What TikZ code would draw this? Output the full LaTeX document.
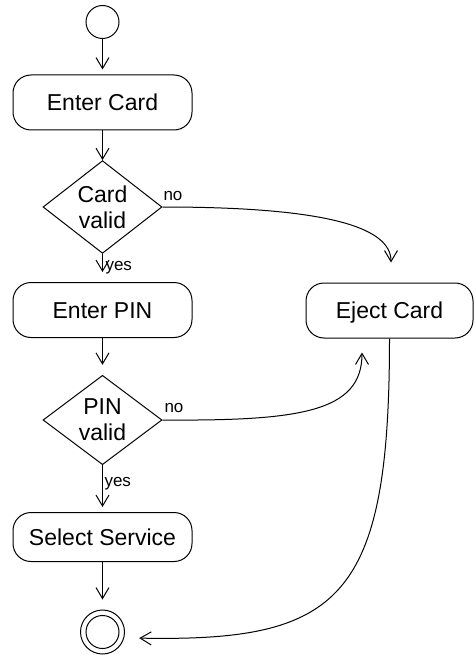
\documentclass[tikz,border=0pt]{standalone}
\usepackage{fontspec}
\setmainfont{Liberation Sans}
\usetikzlibrary{shapes.geometric,arrows.meta,calc}
\tikzset{
  act/.style={draw, rounded corners=18pt, minimum width=179pt, minimum height=55pt,
    inner sep=0pt, text height=16.5pt, text depth=0pt, font=\fontsize{23}{26}\selectfont},
  dec/.style={draw, diamond, minimum width=119pt, minimum height=82pt, inner sep=0pt,
    align=center, font=\fontsize{23}{26}\selectfont},
  arr/.style={-{Straight Barb[length=11pt,width=13pt]}},
  lbl/.style={inner sep=0pt, anchor=base west, font=\fontsize{17}{20}\selectfont},
  every path/.style={line width=1pt}
}
\begin{document}
\begin{tikzpicture}[x=1pt,y=-1pt]
\useasboundingbox (0,0) rectangle (475,655);
\node[draw, circle, minimum size=33pt, inner sep=0pt] (start) at (102.5,22) {};
\node[act] (card) at (102.5,102.5) {Enter Card};
\node[dec] (cvalid) at (102.5,207) {Card\\valid};
\node[act] (pin) at (102.5,310) {Enter PIN};
\node[dec, minimum height=83pt] (pvalid) at (102.5,420) {PIN\\valid};
\node[act, minimum height=49pt] (serv) at (102.5,537) {Select Service};
\node[act, minimum width=167pt] (eject) at (389.5,310.5) {Eject Card};
\node[draw, circle, minimum size=44pt, inner sep=0pt] (final) at (102.5,632) {};
\draw (final.center) circle[radius=16.5pt];

\draw[arr, shorten >=5pt] (start) -- (card);
\draw[arr] (card) -- (cvalid);
\draw[arr, shorten >=10pt] (cvalid) -- (pin);
\draw[arr, shorten >=10pt] (pin) -- (pvalid);
\draw[arr, shorten >=5pt] (pvalid) -- (serv);
\draw[arr, shorten >=10pt] (serv) -- (final);

\coordinate (ejtop) at ($(eject.north)+(1.5,0)$);
\coordinate (ejbot) at ($(eject.south)+(-27.5,0)$);
\draw[arr, shorten >=20pt] (cvalid.east) .. controls (330,207) and (391,228) .. (ejtop);
\draw[arr, shorten >=14pt] (pvalid.east) .. controls (300,421) and (362,412) .. (ejbot);
\draw[arr, shorten >=15pt] (eject.south) .. controls (389.5,600) and (340,642) .. (final.-15);

\node[lbl] (no1) at (163,200) {no};
\node[lbl] (yes1) at (105,270) {yes};
\node[lbl] (no2) at (164,412.5) {no};
\node[lbl] (yes2) at (104,486.5) {yes};
\end{tikzpicture}
\end{document}
